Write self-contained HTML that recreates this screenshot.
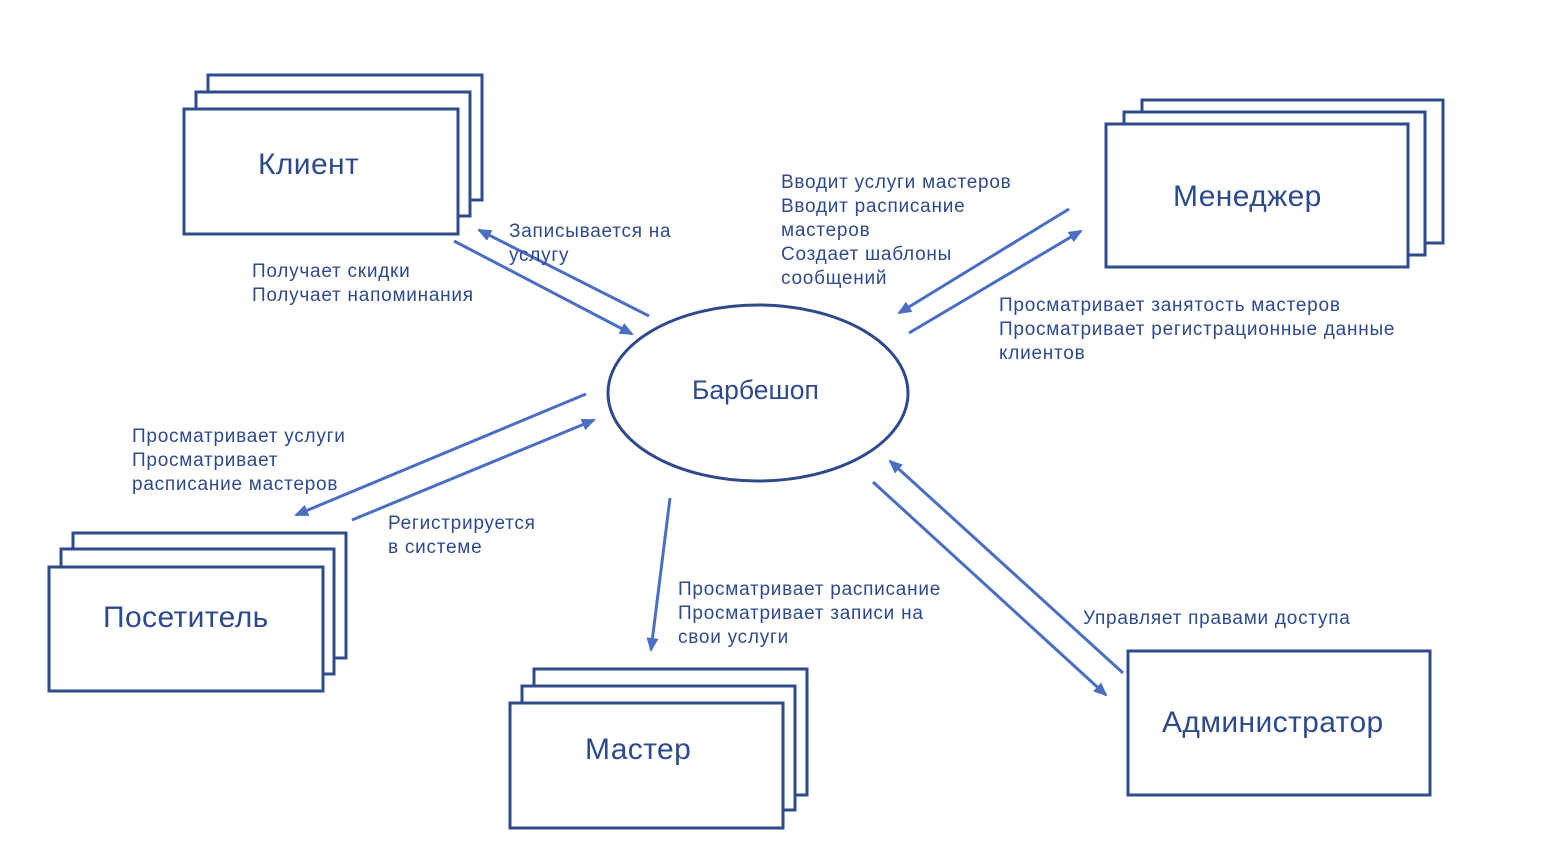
<!DOCTYPE html>
<html><head><meta charset="utf-8"><style>
html,body{margin:0;padding:0;background:#fff;width:1556px;height:858px;overflow:hidden}
svg text{font-family:"Liberation Sans","DejaVu Sans",sans-serif;fill:#2e4a8b}
</style></head><body>
<svg width="1556" height="858" xmlns="http://www.w3.org/2000/svg">
<defs>
<marker id="a" markerWidth="14" markerHeight="12" refX="12" refY="6" orient="auto" markerUnits="userSpaceOnUse">
<path d="M0,0 L14,6 L0,12 z" fill="#4a6ec2"/></marker>
</defs>
<g fill="#fff" stroke="#2e4a8b" stroke-width="3">
<rect x="208" y="75" width="274" height="125"/><rect x="196" y="92" width="274" height="124"/><rect x="184" y="109" width="274" height="125"/>
<rect x="1142" y="100" width="301" height="143"/><rect x="1124" y="112" width="301" height="143"/><rect x="1106" y="124" width="302" height="143"/>
<rect x="73" y="533" width="273" height="125"/><rect x="61" y="549" width="273" height="125"/><rect x="49" y="567" width="274" height="124"/>
<rect x="534" y="669" width="273" height="126"/><rect x="522" y="686" width="273" height="124"/><rect x="510" y="703" width="273" height="125"/>
<rect x="1128" y="651" width="302" height="144"/>
<ellipse cx="758" cy="393" rx="150" ry="88"/>
</g>
<g stroke="#4a6ec2" stroke-width="3" marker-end="url(#a)">
<line x1="454" y1="241" x2="632" y2="334"/>
<line x1="649" y1="316" x2="479" y2="230"/>
<line x1="1069" y1="209" x2="899" y2="313"/>
<line x1="909" y1="333" x2="1081" y2="231"/>
<line x1="586" y1="394" x2="296" y2="515"/>
<line x1="352" y1="520" x2="594" y2="420"/>
<line x1="670" y1="498" x2="651" y2="650"/>
<line x1="873" y1="482" x2="1106" y2="695"/>
<line x1="1123" y1="673" x2="890" y2="461"/>
</g>
<g font-size="30" letter-spacing="0.4">
<text x="258" y="174">Клиент</text>
<text x="1173" y="206">Менеджер</text>
<text x="103" y="627">Посетитель</text>
<text x="585" y="759">Мастер</text>
<text x="1162" y="732">Администратор</text>
<text x="692" y="399" font-size="26.5" letter-spacing="0">Барбешоп</text>
</g>
<g font-size="19" letter-spacing="0.75">
<text x="509" y="237">Записывается на</text><text x="509" y="261">услугу</text>
<text x="252" y="277">Получает скидки</text><text x="252" y="301">Получает напоминания</text>
<text x="781" y="188">Вводит услуги мастеров</text><text x="781" y="212">Вводит расписание</text><text x="781" y="236">мастеров</text><text x="781" y="260">Создает шаблоны</text><text x="781" y="284">сообщений</text>
<text x="999" y="311">Просматривает занятость мастеров</text><text x="999" y="335">Просматривает регистрационные данные</text><text x="999" y="359">клиентов</text>
<text x="132" y="442">Просматривает услуги</text><text x="132" y="466">Просматривает</text><text x="132" y="490">расписание мастеров</text>
<text x="388" y="529">Регистрируется</text><text x="388" y="553">в системе</text>
<text x="678" y="595">Просматривает расписание</text><text x="678" y="619">Просматривает записи на</text><text x="678" y="643">свои услуги</text>
<text x="1083" y="624">Управляет правами доступа</text>
</g>
</svg>
</body></html>
